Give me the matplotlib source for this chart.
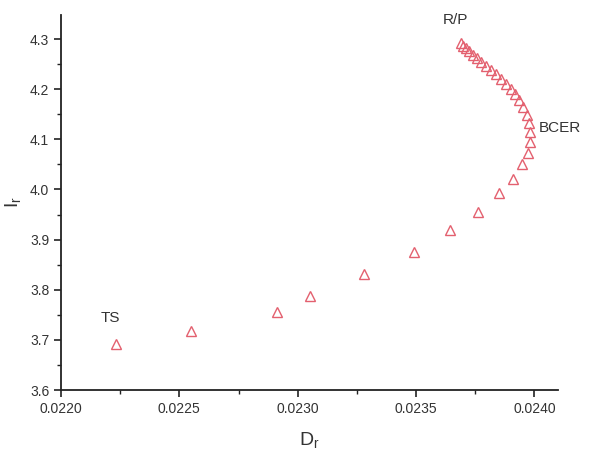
import matplotlib
matplotlib.use("Agg")
import matplotlib.pyplot as plt
from matplotlib.ticker import MultipleLocator, FormatStrFormatter

plt.rcParams['font.family'] = ['Liberation Sans', 'DejaVu Sans']
plt.rcParams['mathtext.fontset'] = 'custom'
plt.rcParams['mathtext.rm'] = 'Liberation Sans'
plt.rcParams['mathtext.it'] = 'Liberation Sans'

# D_r / I_r trajectory
d_r = [0.022233, 0.022550, 0.022913, 0.023053, 0.023281, 0.023493, 0.023645,
       0.023763, 0.023852, 0.023911, 0.023949, 0.023975, 0.023983, 0.023983,
       0.023979, 0.023970, 0.023953, 0.023937, 0.023920, 0.023903, 0.023882,
       0.023861, 0.023839, 0.023818, 0.023797, 0.023776, 0.023759, 0.023742,
       0.023725, 0.023713, 0.023700, 0.023691]
i_r = [3.692, 3.718, 3.756, 3.787, 3.831, 3.875, 3.919,
       3.955, 3.993, 4.021, 4.051, 4.073, 4.095, 4.115,
       4.133, 4.148, 4.164, 4.178, 4.190, 4.200, 4.210,
       4.220, 4.230, 4.238, 4.246, 4.254, 4.262, 4.268,
       4.276, 4.282, 4.286, 4.292]

x_ticks = [0.0220, 0.0225, 0.0230, 0.0235, 0.0240]
y_ticks = [3.6, 3.7, 3.8, 3.9, 4.0, 4.1, 4.2, 4.3]

annotations = [("R/P", 0.023666, 4.338),
               ("BCER", 0.024110, 4.1225),
               ("TS", 0.022207, 3.744)]

fig = plt.figure(figsize=(6.0, 4.53), dpi=100)
ax = fig.add_axes([0.1017, 0.139, 0.8283, 0.828])

ax.plot(d_r, i_r, linestyle='none', marker='^', markersize=7,
        markerfacecolor='none', markeredgecolor='#e3606f', markeredgewidth=1.0)

ax.set_xlim(0.0220, 0.02410)
ax.set_ylim(3.6, 4.348)
ax.set_xticks(x_ticks)
ax.set_yticks(y_ticks)
ax.xaxis.set_major_formatter(FormatStrFormatter('%.4f'))
ax.yaxis.set_major_formatter(FormatStrFormatter('%.1f'))
ax.xaxis.set_minor_locator(MultipleLocator(0.00025))
ax.yaxis.set_minor_locator(MultipleLocator(0.05))

for side in ('top', 'right'):
    ax.spines[side].set_visible(False)
for side in ('left', 'bottom'):
    ax.spines[side].set_linewidth(1.3)
    ax.spines[side].set_color('#222222')

ax.tick_params(which='major', direction='out', length=5, width=1.2,
               labelsize=10, colors='#222222', labelcolor='#333333')
ax.tick_params(which='minor', direction='out', length=3, width=1.0, colors='#222222')

ax.set_xlabel(r'$\mathregular{D_r}$', fontsize=14, color='#333333', labelpad=10)
ax.set_ylabel(r'$\mathregular{I_r}$', fontsize=14, color='#333333', labelpad=5)

for text, x, y in annotations:
    ax.text(x, y, text, fontsize=11, color='#333333', ha='center', va='center',
            clip_on=False)

fig.savefig('out.png', dpi=100)
